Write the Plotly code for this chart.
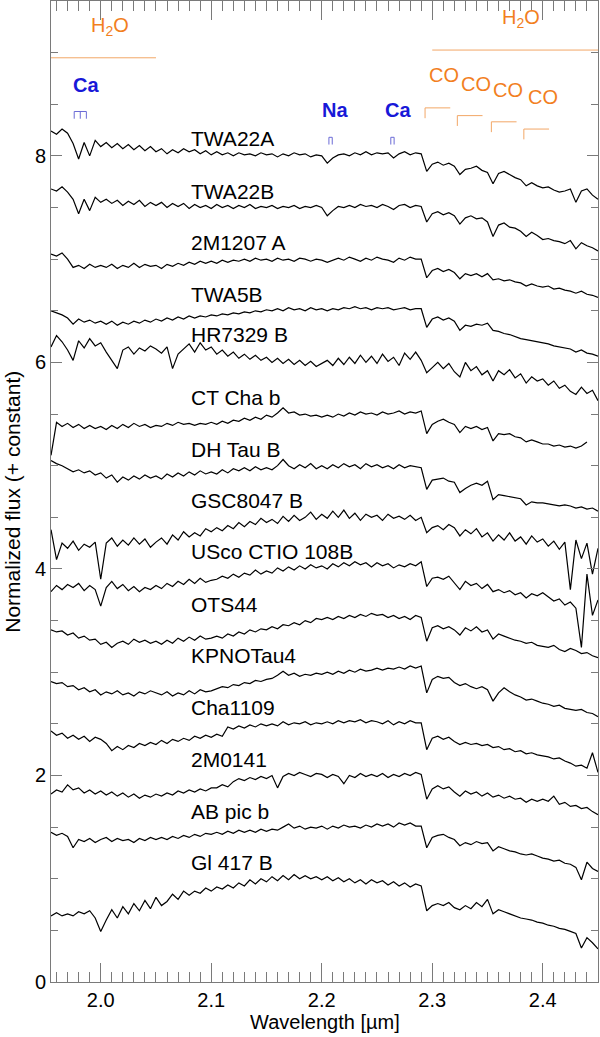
import plotly.graph_objects as go

# ---------------- data ----------------
wavelength = [
    1.955, 1.960, 1.965, 1.970, 1.975, 1.980, 1.985, 1.990, 1.995, 2.000,
    2.005, 2.010, 2.015, 2.020, 2.025, 2.030, 2.035, 2.040, 2.045, 2.050,
    2.055, 2.060, 2.065, 2.070, 2.075, 2.080, 2.085, 2.090, 2.095, 2.100,
    2.105, 2.110, 2.115, 2.120, 2.125, 2.130, 2.135, 2.140, 2.145, 2.150,
    2.155, 2.160, 2.165, 2.170, 2.175, 2.180, 2.185, 2.190, 2.195, 2.200,
    2.205, 2.210, 2.215, 2.220, 2.225, 2.230, 2.235, 2.240, 2.245, 2.250,
    2.255, 2.260, 2.265, 2.270, 2.275, 2.280, 2.285, 2.290, 2.295, 2.300,
    2.305, 2.310, 2.315, 2.320, 2.325, 2.330, 2.335, 2.340, 2.345, 2.350,
    2.355, 2.360, 2.365, 2.370, 2.375, 2.380, 2.385, 2.390, 2.395, 2.400,
    2.405, 2.410, 2.415, 2.420, 2.425, 2.430, 2.435, 2.440, 2.445, 2.450]

twa22a = [
    8.24, 8.21, 8.26, 8.22, 8.12, 7.97, 8.13, 8.00, 8.15, 8.09,
    8.13, 8.08, 8.12, 8.07, 8.11, 8.06, 8.10, 8.05, 8.09, 8.04,
    8.07, 8.02, 8.06, 8.03, 8.07, 8.04, 8.06, 8.02, 8.05, 8.01,
    8.04, 8.01, 8.03, 8.00, 8.03, 8.01, 8.02, 8.00, 8.03, 8.01,
    8.02, 7.99, 8.02, 8.00, 8.03, 8.01, 8.02, 7.99, 8.01, 8.00,
    7.93, 7.98, 8.01, 8.02, 8.00, 8.03, 8.01, 8.04, 8.01, 8.03,
    8.02, 8.03, 7.98, 8.02, 8.04, 8.01, 8.03, 8.02, 7.85, 7.92,
    7.94, 7.91, 7.93, 7.90, 7.82, 7.87, 7.88, 7.90, 7.86, 7.84,
    7.73, 7.83, 7.85, 7.82, 7.79, 7.77, 7.71, 7.74, 7.71, 7.69,
    7.70, 7.67, 7.65, 7.66, 7.68, 7.55, 7.66, 7.68, 7.62, 7.58]

twa22b = [
    7.68, 7.66, 7.70, 7.65, 7.58, 7.44, 7.58, 7.47, 7.60, 7.55,
    7.58, 7.54, 7.57, 7.52, 7.56, 7.53, 7.57, 7.51, 7.55, 7.52,
    7.55, 7.50, 7.54, 7.51, 7.54, 7.49, 7.53, 7.50, 7.52, 7.49,
    7.53, 7.50, 7.52, 7.49, 7.52, 7.50, 7.53, 7.49, 7.51, 7.50,
    7.52, 7.49, 7.51, 7.50, 7.52, 7.49, 7.51, 7.50, 7.52, 7.50,
    7.42, 7.47, 7.51, 7.50, 7.52, 7.50, 7.53, 7.51, 7.52, 7.50,
    7.53, 7.51, 7.48, 7.52, 7.53, 7.50, 7.52, 7.51, 7.36, 7.44,
    7.46, 7.43, 7.45, 7.42, 7.34, 7.40, 7.42, 7.39, 7.40, 7.36,
    7.22, 7.33, 7.35, 7.31, 7.30, 7.27, 7.22, 7.26, 7.23, 7.19,
    7.20, 7.18, 7.17, 7.15, 7.18, 7.10, 7.16, 7.13, 7.11, 7.08]

m1207a = [
    7.05, 7.03, 7.06, 7.00, 6.92, 6.94, 6.91, 6.95, 6.92, 6.94,
    6.92, 6.95, 6.91, 6.94, 6.92, 6.96, 6.92, 6.95, 6.93, 6.94,
    6.91, 6.95, 6.93, 6.96, 6.94, 6.97, 6.95, 6.98, 6.96, 6.98,
    6.96, 6.99, 6.97, 6.99, 6.98, 7.00, 6.98, 7.01, 6.99, 7.00,
    6.98, 7.01, 6.99, 7.00, 6.98, 7.01, 7.00, 6.98, 7.00, 6.99,
    6.97, 6.99, 7.01, 6.99, 7.02, 7.00, 6.98, 7.01, 6.99, 7.02,
    7.00, 6.99, 6.97, 7.01, 6.99, 7.02, 7.00, 7.00, 6.82, 6.89,
    6.91, 6.88, 6.90, 6.87, 6.81, 6.86, 6.84, 6.86, 6.83, 6.86,
    6.80, 6.81, 6.79, 6.80, 6.78, 6.77, 6.74, 6.76, 6.74, 6.73,
    6.74, 6.71, 6.72, 6.70, 6.69, 6.67, 6.69, 6.66, 6.65, 6.63]

twa5b = [
    6.50, 6.48, 6.46, 6.43, 6.37, 6.42, 6.39, 6.41, 6.38, 6.40,
    6.37, 6.40, 6.36, 6.39, 6.37, 6.40, 6.38, 6.41, 6.39, 6.42,
    6.40, 6.43, 6.41, 6.44, 6.42, 6.45, 6.43, 6.45, 6.44, 6.46,
    6.45, 6.47, 6.46, 6.48, 6.47, 6.49, 6.48, 6.50, 6.49, 6.51,
    6.50, 6.52, 6.50, 6.53, 6.51, 6.52, 6.50, 6.53, 6.51, 6.52,
    6.50, 6.52, 6.51, 6.53, 6.52, 6.54, 6.52, 6.53, 6.51, 6.53,
    6.52, 6.53, 6.51, 6.52, 6.53, 6.51, 6.52, 6.52, 6.34, 6.42,
    6.44, 6.41, 6.43, 6.40, 6.31, 6.36, 6.35, 6.37, 6.36, 6.38,
    6.31, 6.30, 6.28, 6.27, 6.25, 6.23, 6.22, 6.21, 6.20, 6.19,
    6.18, 6.16, 6.15, 6.14, 6.13, 6.10, 6.12, 6.09, 6.08, 6.06]

hr7329b = [
    6.15, 6.26, 6.20, 6.12, 6.02, 6.21, 6.14, 6.23, 6.16, 6.19,
    6.10, 6.02, 5.94, 6.12, 6.15, 6.08, 6.14, 6.11, 6.16, 6.13,
    6.09, 6.15, 5.94, 6.08, 6.13, 6.18, 6.10, 6.19, 6.12, 6.15,
    6.08, 6.12, 6.06, 6.10, 6.04, 6.08, 6.03, 6.07, 6.02, 6.05,
    6.00, 6.04, 5.99, 6.03, 5.98, 6.02, 5.97, 6.01, 5.96, 5.99,
    6.02, 5.97, 6.04, 5.98, 6.05, 5.99, 6.07, 6.00, 6.06, 5.99,
    6.08, 6.01, 6.05, 5.97, 6.09, 6.03, 6.10, 6.02, 5.90, 5.95,
    6.00, 5.94, 5.99, 5.91, 5.86, 6.00, 5.92, 5.96, 5.88, 5.92,
    5.82, 5.92, 5.88, 5.93, 5.85, 5.89, 5.80, 5.86, 5.82, 5.84,
    5.78, 5.82, 5.75, 5.78, 5.72, 5.69, 5.76, 5.70, 5.73, 5.63]

ctchab = [
    5.10, 5.42, 5.38, 5.41, 5.37, 5.40, 5.36, 5.39, 5.36, 5.38,
    5.35, 5.39, 5.36, 5.40, 5.37, 5.41, 5.38, 5.40, 5.37, 5.39,
    5.38, 5.41, 5.39, 5.42, 5.40, 5.41, 5.39, 5.41, 5.40, 5.42,
    5.40, 5.43, 5.41, 5.44, 5.43, 5.46, 5.44, 5.47, 5.45, 5.49,
    5.47, 5.51, 5.56, 5.51, 5.52, 5.49, 5.50, 5.48, 5.49, 5.47,
    5.49, 5.47, 5.50, 5.48, 5.51, 5.49, 5.52, 5.50, 5.51, 5.49,
    5.52, 5.50, 5.51, 5.53, 5.50, 5.52, 5.51, 5.53, 5.31, 5.40,
    5.43, 5.45, 5.42, 5.40, 5.32, 5.38, 5.36, 5.38, 5.35, 5.37,
    5.24, 5.31, 5.30, 5.31, 5.28, 5.27, 5.23, 5.25, 5.23, 5.21,
    5.21, 5.19, 5.20, 5.18, 5.19, 5.17, 5.19, 5.23, None, None]

dhtaub = [
    5.05, 5.02, 5.00, 4.97, 4.94, 4.96, 4.93, 4.95, 4.91, 4.93,
    4.88, 4.91, 4.84, 4.89, 4.86, 4.90, 4.87, 4.91, 4.88, 4.90,
    4.87, 4.92, 4.89, 4.93, 4.90, 4.94, 4.91, 4.95, 4.92, 4.94,
    4.92, 4.96, 4.93, 4.97, 4.95, 4.98, 4.95, 4.99, 4.96, 4.98,
    4.96, 5.00, 5.06, 5.00, 4.97, 5.01, 4.98, 5.02, 4.97, 5.00,
    4.97, 5.01, 4.98, 5.02, 4.99, 5.01, 4.97, 5.02, 4.99, 5.01,
    4.98, 5.00, 4.97, 5.01, 4.98, 5.00, 4.99, 4.98, 4.77, 4.86,
    4.87, 4.88, 4.85, 4.84, 4.74, 4.78, 4.81, 4.83, 4.81, 4.85,
    4.67, 4.72, 4.71, 4.70, 4.69, 4.68, 4.62, 4.65, 4.64, 4.64,
    4.63, 4.62, 4.61, 4.62, 4.61, 4.59, 4.60, 4.58, 4.59, 4.56]

gsc8047b = [
    4.38, 4.09, 4.25, 4.20, 4.27, 4.18, 4.24, 4.21, 4.26, 3.90,
    4.25, 4.30, 4.22, 4.28, 4.23, 4.30, 4.24, 4.29, 4.21, 4.26,
    4.30, 4.24, 4.33, 4.28, 4.36, 4.31, 4.35, 4.32, 4.39, 4.36,
    4.40, 4.37, 4.42, 4.39, 4.45, 4.41, 4.46, 4.43, 4.49, 4.45,
    4.48, 4.44, 4.51, 4.46, 4.52, 4.47, 4.50, 4.55, 4.48, 4.53,
    4.49, 4.56, 4.50, 4.57, 4.49, 4.54, 4.47, 4.53, 4.50, 4.52,
    4.47, 4.53, 4.49, 4.51, 4.48, 4.52, 4.47, 4.50, 4.35, 4.40,
    4.42, 4.38, 4.43, 4.40, 4.32, 4.38, 4.34, 4.39, 4.31, 4.35,
    4.27, 4.33, 4.28, 4.35, 4.27, 4.31, 4.24, 4.32, 4.26, 4.29,
    4.22, 4.27, 4.19, 4.26, 3.80, 4.28, 4.10, 4.25, 3.95, 4.20]

usco108b = [
    3.78, 3.84, 3.80, 3.85, 3.82, 3.86, 3.79, 3.84, 3.80, 3.64,
    3.82, 3.88, 3.81, 3.85, 3.79, 3.83, 3.78, 3.82, 3.80, 3.84,
    3.81, 3.86, 3.83, 3.88, 3.85, 3.90, 3.86, 3.91, 3.87, 3.89,
    3.90, 3.93, 3.91, 3.95, 3.92, 3.96, 3.94, 3.99, 3.95, 3.98,
    3.96, 4.01, 3.98, 4.02, 3.99, 4.03, 4.00, 4.04, 4.01, 4.03,
    4.00, 4.05, 4.02, 4.06, 4.03, 4.07, 4.04, 4.06, 4.02, 4.06,
    4.03, 4.05, 4.01, 4.04, 4.02, 4.05, 4.03, 4.07, 3.83, 3.91,
    3.92, 3.90, 3.93, 3.86, 3.80, 3.88, 3.84, 3.86, 3.81, 3.85,
    3.78, 3.80, 3.77, 3.79, 3.75, 3.77, 3.72, 3.76, 3.74, 3.77,
    3.73, 3.69, 3.71, 3.65, 3.68, 3.62, 3.24, 3.95, 3.55, 3.70]

ots44 = [
    3.41, 3.39, 3.40, 3.36, 3.38, 3.33, 3.35, 3.31, 3.32, 3.27,
    3.29, 3.24, 3.28, 3.30, 3.27, 3.32, 3.29, 3.31, 3.28, 3.30,
    3.27, 3.31, 3.28, 3.33, 3.30, 3.34, 3.31, 3.35, 3.32, 3.33,
    3.35, 3.33, 3.37, 3.35, 3.39, 3.37, 3.41, 3.39, 3.42, 3.41,
    3.44, 3.42, 3.46, 3.45, 3.48, 3.46, 3.50, 3.48, 3.52, 3.51,
    3.53, 3.51, 3.54, 3.52, 3.55, 3.53, 3.56, 3.54, 3.57, 3.55,
    3.56, 3.53, 3.55, 3.52, 3.54, 3.51, 3.55, 3.53, 3.30, 3.43,
    3.45, 3.42, 3.44, 3.41, 3.36, 3.43, 3.40, 3.44, 3.39, 3.41,
    3.32, 3.37, 3.35, 3.33, 3.31, 3.30, 3.28, 3.29, 3.26, 3.25,
    3.24, 3.26, 3.22, 3.20, 3.23, 3.21, 3.18, 3.19, 3.16, 3.14]

kpnotau4 = [
    2.91, 2.89, 2.90, 2.86, 2.87, 2.83, 2.85, 2.81, 2.83, 2.78,
    2.81, 2.79, 2.82, 2.78, 2.80, 2.77, 2.81, 2.79, 2.82, 2.80,
    2.78, 2.81, 2.77, 2.80, 2.78, 2.82, 2.79, 2.83, 2.81, 2.82,
    2.84, 2.86, 2.85, 2.88, 2.87, 2.90, 2.89, 2.92, 2.91, 2.93,
    2.94, 2.97, 3.01, 2.97, 2.99, 2.96, 2.98, 2.97, 2.99, 2.98,
    3.00, 2.98, 3.01, 2.99, 3.02, 3.00, 3.03, 3.01, 3.02, 3.04,
    3.02, 3.04, 3.03, 3.05, 3.03, 3.06, 3.04, 3.06, 2.80, 2.93,
    2.96, 2.94, 2.95, 2.90, 2.87, 2.89, 2.86, 2.84, 2.86, 2.83,
    2.72, 2.80, 2.85, 2.81, 2.78, 2.76, 2.73, 2.74, 2.72, 2.70,
    2.69, 2.67, 2.68, 2.65, 2.64, 2.63, 2.64, 2.61, 2.60, 2.57]

cha1109 = [
    2.43, 2.39, 2.41, 2.36, 2.39, 2.35, 2.38, 2.33, 2.37, 2.35,
    2.31, 2.24, 2.28, 2.25, 2.29, 2.27, 2.31, 2.29, 2.32, 2.30,
    2.34, 2.31, 2.35, 2.33, 2.36, 2.34, 2.38, 2.36, 2.39, 2.37,
    2.40, 2.38, 2.47, 2.45, 2.48, 2.46, 2.49, 2.47, 2.50, 2.48,
    2.50, 2.48, 2.52, 2.49, 2.51, 2.50, 2.52, 2.49, 2.51, 2.50,
    2.52, 2.50, 2.53, 2.51, 2.53, 2.52, 2.54, 2.51, 2.53, 2.52,
    2.50, 2.53, 2.49, 2.52, 2.50, 2.53, 2.51, 2.51, 2.25, 2.36,
    2.38, 2.35, 2.37, 2.33, 2.30, 2.32, 2.30, 2.31, 2.29, 2.30,
    2.27, 2.28, 2.25, 2.26, 2.23, 2.24, 2.21, 2.22, 2.20, 2.19,
    2.18, 2.16, 2.17, 2.14, 2.12, 2.09, 2.10, 2.07, 2.22, 2.03]

m0141 = [
    1.82, 1.86, 1.84, 1.91, 1.86, 1.88, 1.83, 1.86, 1.82, 1.85,
    1.81, 1.84, 1.80, 1.83, 1.79, 1.82, 1.78, 1.81, 1.79, 1.82,
    1.80, 1.83, 1.81, 1.85, 1.83, 1.86, 1.84, 1.87, 1.85, 1.88,
    1.88, 1.91, 1.89, 1.94, 1.97, 1.95, 1.98, 1.96, 1.99, 1.97,
    2.00, 1.88, 1.99, 2.02, 2.00, 2.03, 2.01, 1.99, 2.02, 2.01,
    1.98, 2.01, 1.99, 1.92, 2.00, 1.98, 2.02, 1.99, 2.01, 1.99,
    2.02, 1.98, 2.01, 1.99, 2.02, 2.00, 2.03, 2.01, 1.77, 1.87,
    1.90, 1.87, 1.89, 1.84, 1.80, 1.85, 1.82, 1.84, 1.80, 1.83,
    1.79, 1.81, 1.78, 1.80, 1.77, 1.78, 1.74, 1.77, 1.75, 1.77,
    1.75, 1.80, 1.72, 1.74, 1.70, 1.71, 1.68, 1.69, 1.65, 1.62]

abpicb = [
    1.45, 1.42, 1.44, 1.41, 1.30, 1.38, 1.36, 1.39, 1.35, 1.38,
    1.40, 1.36, 1.39, 1.37, 1.38, 1.35, 1.39, 1.37, 1.40, 1.38,
    1.40, 1.38, 1.41, 1.39, 1.42, 1.40, 1.43, 1.41, 1.44, 1.43,
    1.45, 1.43, 1.46, 1.44, 1.47, 1.45, 1.47, 1.45, 1.48, 1.46,
    1.48, 1.47, 1.50, 1.53, 1.49, 1.51, 1.48, 1.50, 1.49, 1.51,
    1.48, 1.51, 1.49, 1.52, 1.50, 1.51, 1.49, 1.52, 1.50, 1.53,
    1.51, 1.53, 1.50, 1.54, 1.52, 1.54, 1.51, 1.51, 1.30, 1.40,
    1.42, 1.43, 1.40, 1.38, 1.32, 1.35, 1.33, 1.36, 1.34, 1.35,
    1.27, 1.31, 1.29, 1.27, 1.26, 1.24, 1.23, 1.24, 1.22, 1.20,
    1.19, 1.17, 1.18, 1.15, 1.14, 1.11, 0.99, 1.16, 1.10, 1.07]

gl417b = [
    0.64, 0.67, 0.64, 0.66, 0.64, 0.68, 0.66, 0.69, 0.62, 0.49,
    0.60, 0.70, 0.62, 0.73, 0.66, 0.76, 0.69, 0.79, 0.71, 0.82,
    0.74, 0.78, 0.85, 0.80, 0.88, 0.84, 0.88, 0.86, 0.91, 0.88,
    0.92, 0.90, 0.94, 0.91, 0.96, 0.93, 0.99, 0.95, 1.00, 0.97,
    1.02, 0.98, 1.03, 0.99, 1.04, 1.00, 1.03, 1.00, 1.02, 0.99,
    1.02, 0.98, 1.01, 0.97, 1.00, 0.96, 0.99, 0.95, 0.99, 0.96,
    0.98, 0.94, 0.97, 0.93, 0.96, 0.92, 0.95, 0.93, 0.69, 0.74,
    0.76, 0.74, 0.77, 0.72, 0.70, 0.74, 0.71, 0.77, 0.73, 0.80,
    0.66, 0.70, 0.68, 0.66, 0.64, 0.62, 0.61, 0.60, 0.58, 0.57,
    0.55, 0.54, 0.52, 0.51, 0.49, 0.47, 0.33, 0.43, 0.38, 0.32]

object_names = ["TWA22A", "TWA22B", "2M1207 A", "TWA5B", "HR7329 B", "CT Cha b",
                "DH Tau B", "GSC8047 B", "USco CTIO 108B", "OTS44", "KPNOTau4",
                "Cha1109", "2M0141", "AB pic b", "Gl 417 B"]
spectra = [twa22a, twa22b, m1207a, twa5b, hr7329b, ctchab, dhtaub, gsc8047b,
           usco108b, ots44, kpnotau4, cha1109, m0141, abpicb, gl417b]
label_y = [8.17, 7.66, 7.16, 6.66, 6.27, 5.66, 5.16, 4.66, 4.165, 3.66,
           3.16, 2.655, 2.15, 1.65, 1.155]
label_x = 2.08

# line identifications (wavelengths, micron)
h2o_bands = [(1.955, 2.05), (2.30, 2.45)]
co_bandheads = [2.2935, 2.3227, 2.3535, 2.3829]
ca_lines_left = [1.976, 1.9815, 1.987]
na_lines = [2.2065, 2.2095]
ca_lines_right = [2.2625, 2.2655]

# ---------------- styling ----------------
FONT = "Liberation Sans, Arial, Helvetica, sans-serif"
ORANGE = "#f27f1f"
ORANGE_LINE = "#f2a766"
BLUE = "#1818d8"
BLUE_LINE = "#6b6bd6"
AXIS = "#7a7a7a"

fig = go.Figure()
for name, flux in zip(object_names, spectra):
    fig.add_trace(go.Scatter(x=wavelength, y=flux, mode="lines", name=name,
                             line=dict(color="black", width=1.2),
                             connectgaps=False, hoverinfo="skip"))

shapes = []
annotations = []

def seg(x0, y0, x1, y1, color):
    shapes.append(dict(type="line", xref="x", yref="y", x0=x0, y0=y0, x1=x1, y1=y1,
                       line=dict(color=color, width=1)))

# H2O bands
h2o_y = [8.95, 9.025]
h2o_text = [(2.0083, 9.25), (2.3807, 9.33)]
for (a, b), yy, (tx, ty) in zip(h2o_bands, h2o_y, h2o_text):
    seg(a, yy, b, yy, ORANGE_LINE)
    annotations.append(dict(x=tx, y=ty, xref="x", yref="y", text="H<sub>2</sub>O",
                            showarrow=False, font=dict(family=FONT, size=20, color=ORANGE)))

# CO bandheads
co_top = [8.465, 8.39, 8.33, 8.26]
co_text = [(2.311, 8.78), (2.3392, 8.70), (2.3687, 8.64), (2.4002, 8.57)]
for bh, yt, (tx, ty) in zip(co_bandheads, co_top, co_text):
    seg(bh, yt, bh + 0.0228, yt, ORANGE_LINE)
    seg(bh, yt, bh, yt - 0.1, ORANGE_LINE)
    annotations.append(dict(x=tx, y=ty, xref="x", yref="y", text="CO", showarrow=False,
                            font=dict(family=FONT, size=20, color=ORANGE)))

# atomic line combs
def comb(lines, ytop, ybot):
    seg(min(lines), ytop, max(lines), ytop, BLUE_LINE)
    for w in lines:
        seg(w, ytop, w, ybot, BLUE_LINE)

comb(ca_lines_left, 8.43, 8.36)
comb(na_lines, 8.18, 8.11)
comb(ca_lines_right, 8.18, 8.11)
for txt, tx, ty in [("Ca", 1.9869, 8.69), ("Na", 2.2118, 8.44), ("Ca", 2.2688, 8.44)]:
    annotations.append(dict(x=tx, y=ty, xref="x", yref="y", text="<b>%s</b>" % txt,
                            showarrow=False, font=dict(family=FONT, size=20, color=BLUE)))

# object labels
for name, ly in zip(object_names, label_y):
    annotations.append(dict(x=label_x, y=ly, xref="x", yref="y", text=name,
                            showarrow=False, xanchor="left", yanchor="middle",
                            font=dict(family=FONT, size=21, color="black")))

# axis titles
annotations.append(dict(x=0.5, y=-0.0405, xref="paper", yref="paper",
                        text="Wavelength [\u00b5m]", showarrow=False,
                        xanchor="center", yanchor="middle",
                        font=dict(family=FONT, size=20, color="black")))
annotations.append(dict(x=-0.0705, y=0.49, xref="paper", yref="paper",
                        text="Normalized flux (+ constant)", showarrow=False,
                        textangle=-90, xanchor="center", yanchor="middle",
                        font=dict(family=FONT, size=21, color="black")))

fig.update_layout(
    width=600, height=1037,
    margin=dict(l=51, r=2, t=1, b=55, autoexpand=False),
    paper_bgcolor="white", plot_bgcolor="white",
    showlegend=False,
    shapes=shapes, annotations=annotations,
    font=dict(family=FONT, size=20, color="black"),
)
fig.update_xaxes(
    automargin=False,
    range=[1.955, 2.45], tickmode="linear", tick0=2.0, dtick=0.1, tickformat=".1f",
    ticks="inside", ticklen=19, tickwidth=1, tickcolor=AXIS,
    showline=True, linecolor=AXIS, linewidth=1, mirror="allticks",
    showgrid=False, zeroline=False,
    tickfont=dict(family=FONT, size=20, color="black"),
    minor=dict(tick0=2.0, dtick=0.01, ticks="inside", ticklen=10, tickwidth=1,
               tickcolor=AXIS, showgrid=False),
)
fig.update_yaxes(
    automargin=False,
    range=[0, 9.5], tickmode="linear", tick0=0, dtick=2,
    ticks="inside", ticklen=11, tickwidth=1, tickcolor=AXIS,
    showline=True, linecolor=AXIS, linewidth=1, mirror="allticks",
    showgrid=False, zeroline=False,
    tickfont=dict(family=FONT, size=20, color="black"),
    minor=dict(tick0=0, dtick=0.5, ticks="inside", ticklen=7, tickwidth=1,
               tickcolor=AXIS, showgrid=False),
)

fig.write_html("out.html",
               config={"displayModeBar": False, "staticPlot": True},
               post_script="document.body.style.margin='0';document.body.style.padding='0';")
